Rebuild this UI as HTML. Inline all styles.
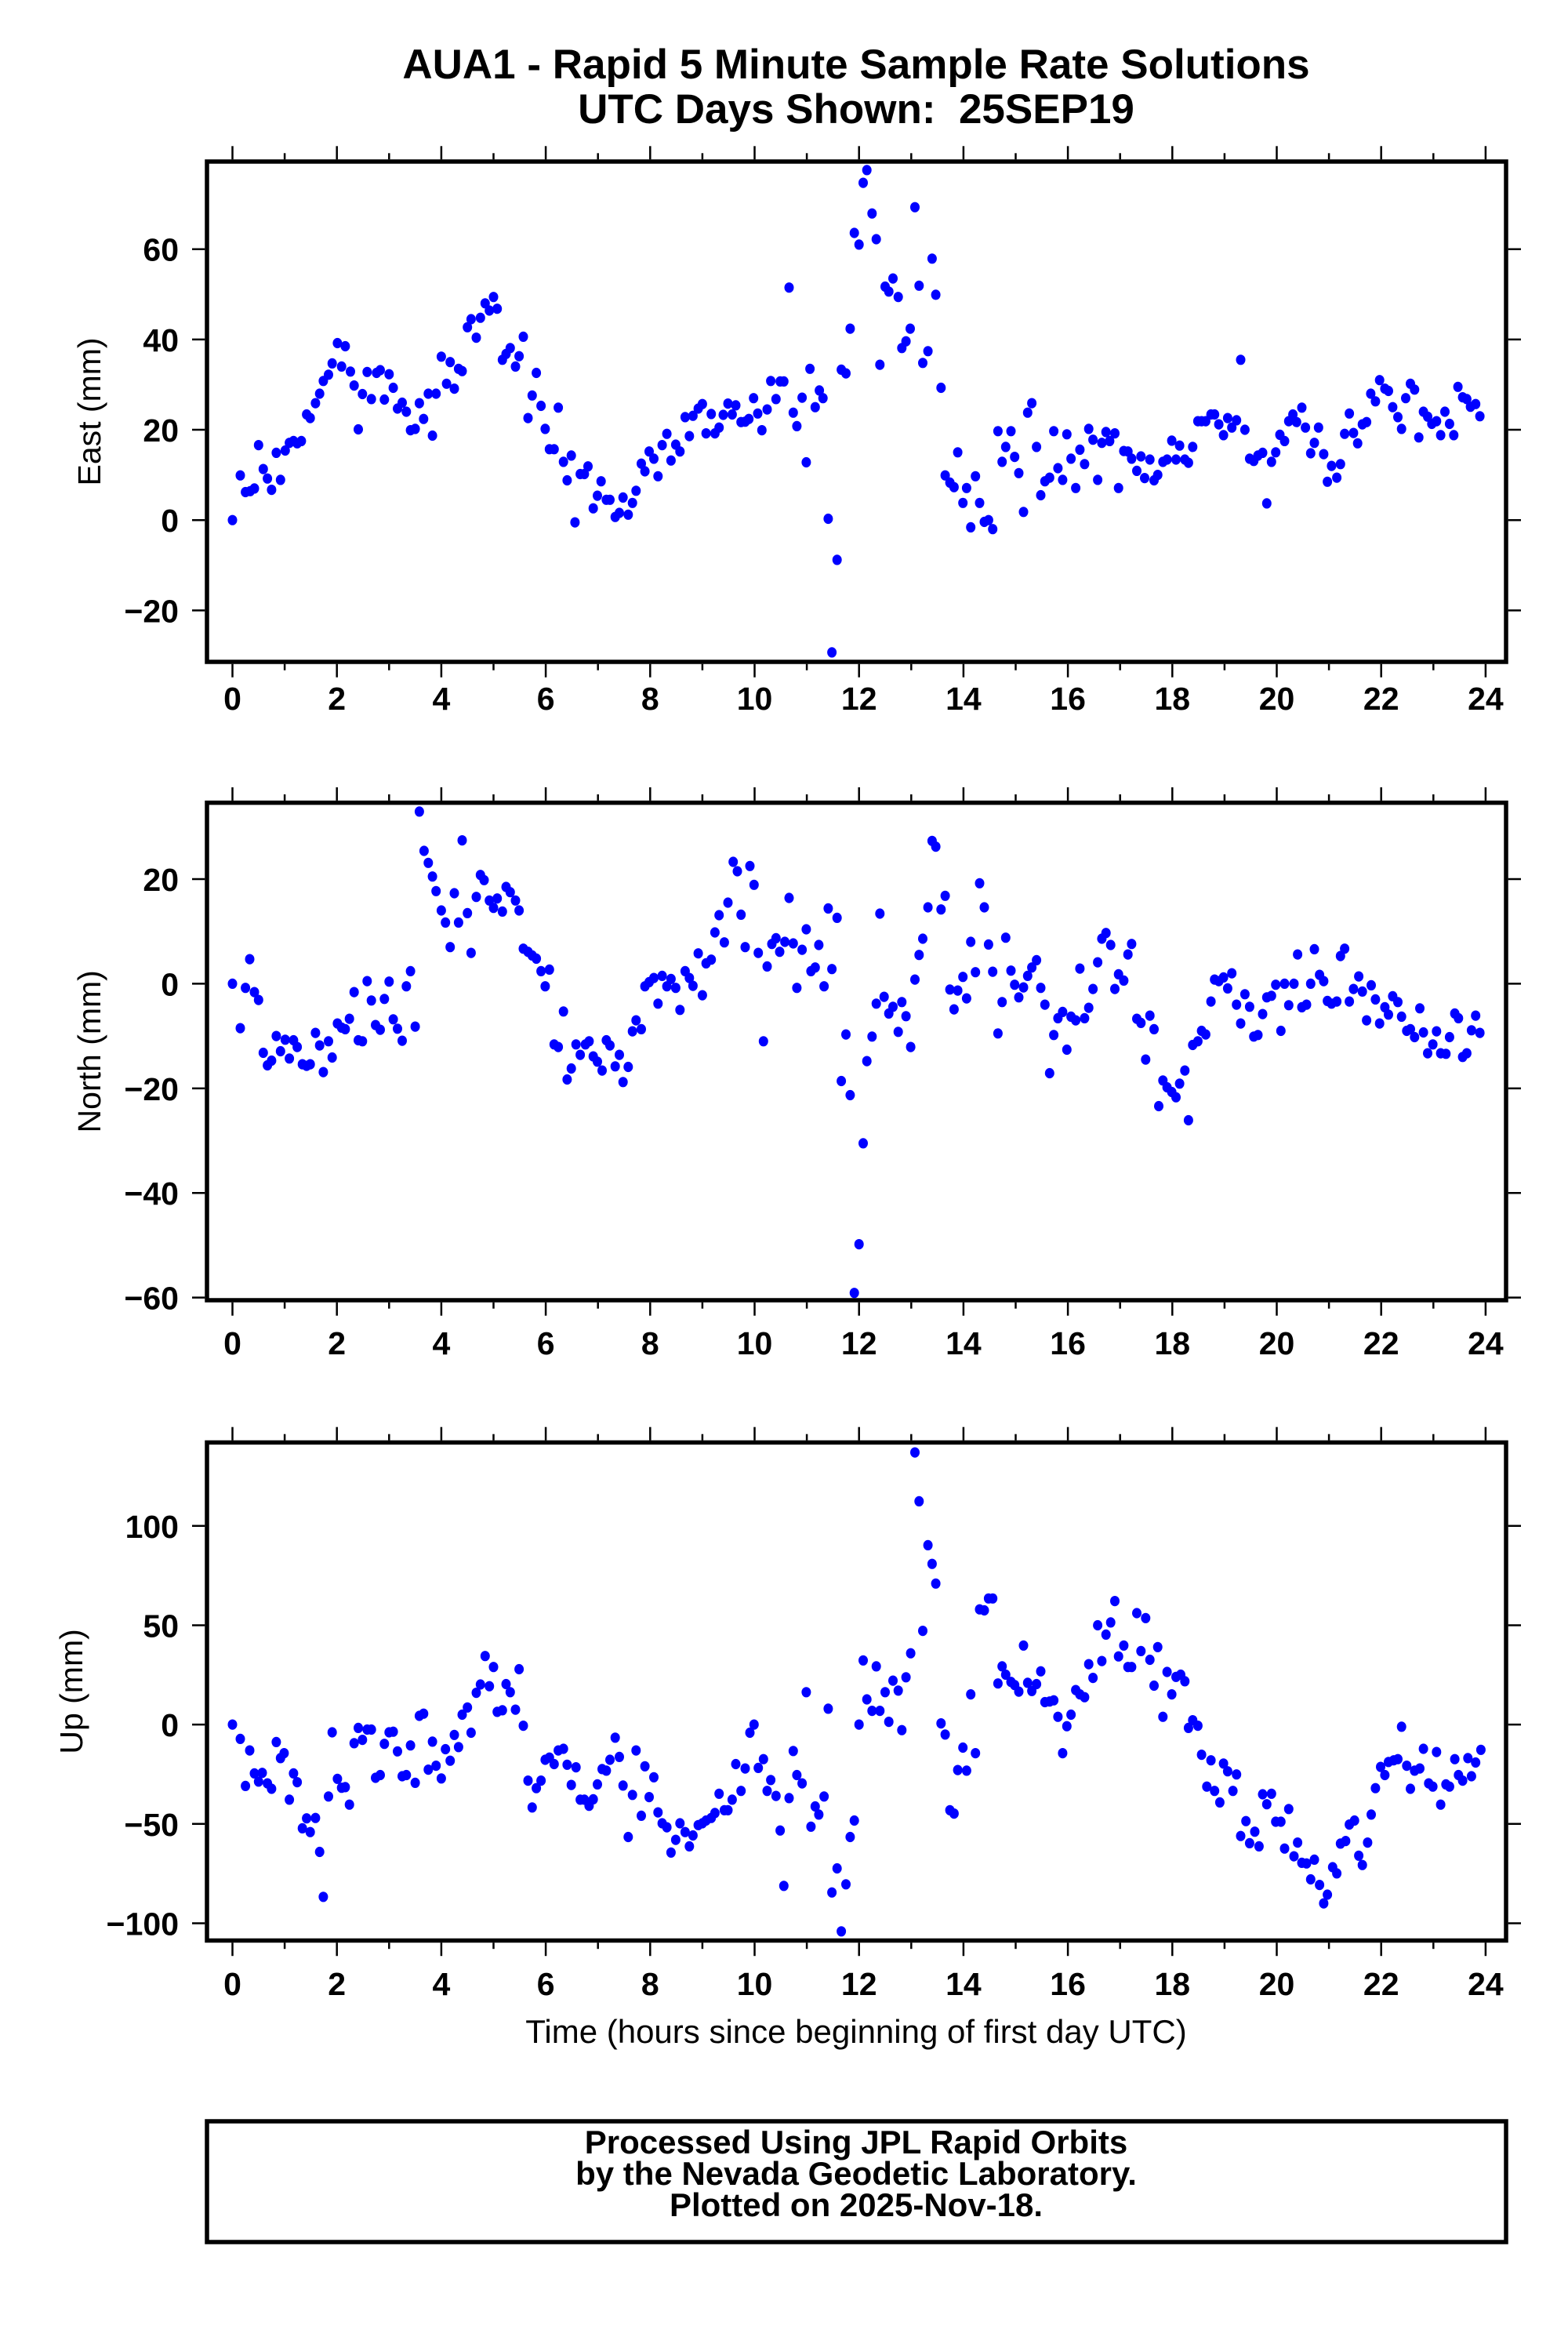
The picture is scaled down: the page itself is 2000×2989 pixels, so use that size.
<!DOCTYPE html>
<html><head><meta charset="utf-8"><style>
html,body{margin:0;padding:0;background:#fff;}
svg{display:block;}
text{font-family:"Liberation Sans",sans-serif;fill:#000;}
</style></head><body>
<svg id="chart" width="2000" height="2989" viewBox="0 0 2000 2989" xmlns="http://www.w3.org/2000/svg">
<text x="1092" y="100" text-anchor="middle" font-size="53" font-weight="bold">AUA1 - Rapid 5 Minute Sample Rate Solutions</text>
<text x="1092" y="157" text-anchor="middle" font-size="53" font-weight="bold">UTC Days Shown:&#160; 25SEP19</text>
<g id="panels"></g>
<text x="1092" y="2605" text-anchor="middle" font-size="42">Time (hours since beginning of first day UTC)</text>
<rect x="264" y="2705" width="1657" height="154" fill="none" stroke="#000" stroke-width="5.5"/>
<text x="1092" y="2746" text-anchor="middle" font-size="42" font-weight="bold">Processed Using JPL Rapid Orbits</text>
<text x="1092" y="2786" text-anchor="middle" font-size="42" font-weight="bold">by the Nevada Geodetic Laboratory.</text>
<text x="1092" y="2826" text-anchor="middle" font-size="42" font-weight="bold">Plotted on 2025-Nov-18.</text>
</svg>
<script>
const xTicks = [0,2,4,6,8,10,12,14,16,18,20,22,24];
const eastTicks = [60,40,20,0,-20];
const northTicks = [20,0,-20,-40,-60];
const upTicks = [100,50,0,-50,-100];

const eastT = [0,0.15,0.25,0.34,0.42,0.5,0.59,0.67,0.75,0.84,0.92,1.01,1.09,1.17,1.24,1.32,1.42,1.49,1.59,1.67,1.74,1.84,1.91,2.01,2.09,2.16,2.26,2.33,2.41,2.49,2.58,2.66,2.76,2.83,2.91,3.0,3.08,3.16,3.25,3.33,3.41,3.5,3.58,3.66,3.75,3.83,3.9,4.0,4.1,4.17,4.25,4.33,4.4,4.5,4.57,4.67,4.75,4.84,4.92,5.0,5.07,5.17,5.24,5.32,5.42,5.49,5.57,5.66,5.74,5.82,5.91,5.99,6.07,6.16,6.24,6.34,6.41,6.49,6.56,6.66,6.74,6.81,6.91,6.99,7.06,7.16,7.23,7.33,7.41,7.48,7.58,7.66,7.73,7.83,7.9,7.98,8.07,8.15,8.23,8.32,8.4,8.49,8.57,8.67,8.75,8.82,8.92,9.0,9.07,9.17,9.24,9.32,9.4,9.49,9.57,9.64,9.74,9.82,9.89,9.98,10.06,10.14,10.24,10.31,10.41,10.49,10.56,10.66,10.74,10.81,10.91,10.99,11.06,11.16,11.24,11.31,11.41,11.48,11.58,11.66,11.75,11.83,11.91,12.0,12.08,12.15,12.25,12.33,12.4,12.5,12.57,12.65,12.75,12.82,12.9,12.98,13.07,13.15,13.22,13.32,13.4,13.47,13.57,13.65,13.74,13.82,13.89,13.99,14.06,14.14,14.23,14.31,14.4,14.48,14.56,14.66,14.74,14.81,14.91,14.98,15.06,15.15,15.23,15.31,15.4,15.48,15.56,15.65,15.73,15.81,15.9,15.98,16.06,16.15,16.23,16.32,16.4,16.48,16.57,16.65,16.73,16.8,16.9,16.97,17.07,17.15,17.22,17.32,17.4,17.47,17.57,17.65,17.72,17.82,17.9,17.99,18.07,18.14,18.24,18.31,18.39,18.49,18.56,18.64,18.74,18.81,18.89,18.98,19.06,19.14,19.23,19.31,19.39,19.48,19.56,19.64,19.73,19.81,19.9,19.98,20.06,20.15,20.23,20.31,20.38,20.48,20.55,20.65,20.72,20.8,20.9,20.97,21.05,21.15,21.22,21.3,21.39,21.47,21.55,21.64,21.72,21.8,21.89,21.97,22.07,22.14,22.22,22.32,22.39,22.47,22.56,22.64,22.72,22.81,22.89,22.97,23.06,23.14,23.22,23.31,23.39,23.47,23.56,23.64,23.71,23.81,23.89];
const eastV = [0,9.9,6.2,6.4,7,16.6,11.3,9.2,6.7,14.9,8.9,15.4,17.1,17.5,17,17.5,23.4,22.6,25.9,28,30.8,32.2,34.7,39.2,34,38.5,32.9,29.8,20.1,27.9,32.8,26.8,32.6,33.2,26.7,32.3,29.3,24.7,26,24,19.9,20.2,25.9,22.4,28,18.7,28,36.2,30.2,35,29.1,33.5,33,42.7,44.5,40.4,44.8,48,46.4,49.4,46.8,35.5,36.8,38.1,34,36.3,40.6,22.6,27.6,32.6,25.3,20.2,15.7,15.7,24.9,12.9,8.8,14.3,-0.5,10.2,10.2,11.9,2.6,5.4,8.6,4.5,4.5,0.7,1.6,5,1.2,3.8,6.5,12.5,10.8,15.2,13.6,9.7,16.6,19.1,13.2,16.7,15.2,22.8,18.6,23.1,24.7,25.7,19.2,23.5,19.2,20.5,23.3,25.8,23.4,25.4,21.7,21.8,22.4,27,23.6,19.9,24.5,30.8,26.8,30.7,30.7,51.5,23.8,20.8,27.1,12.8,33.5,25,28.7,27,0.3,-29.3,-8.8,33.3,32.5,42.4,63.6,61,74.7,77.5,67.9,62.2,34.4,51.7,50.6,53.5,49.4,38.1,39.6,42.4,69.3,51.9,34.8,37.4,57.9,49.9,29.3,9.9,8.3,7.3,15,3.8,7.1,-1.6,9.7,3.8,-0.4,0,-2,19.7,12.9,16.2,19.7,14,10.4,1.8,23.8,25.9,16.2,5.5,8.6,9.4,19.7,11.5,8.9,19,13.6,7.1,15.6,12.4,20.2,17.8,8.9,17.1,19.5,17.5,19.2,7.1,15.3,15.2,13.6,10.9,14.1,9.3,13.4,8.8,10,12.9,13.4,17.6,13.4,16.5,13.4,12.7,16.2,21.9,21.9,21.9,23.4,23.4,21.2,18.8,22.6,20.5,22.1,35.5,20,13.6,13.1,14.3,14.9,3.7,12.9,15,18.9,17.5,21.9,23.4,21.7,24.9,20.5,14.8,17.1,20.5,14.6,8.5,12,9.4,12.4,19.1,23.6,19.3,17,21.2,21.7,28,26.3,31,29.1,28.6,25,22.8,20.2,27,30.2,28.9,18.3,24,22.9,21.3,21.9,18.8,24,21.3,18.8,29.5,27.2,26.8,25.1,25.7,23];

const northT = [0,0.15,0.25,0.33,0.42,0.5,0.59,0.67,0.75,0.84,0.92,1.01,1.09,1.17,1.24,1.34,1.42,1.49,1.59,1.67,1.74,1.84,1.91,2.01,2.09,2.16,2.24,2.33,2.41,2.49,2.58,2.66,2.74,2.83,2.91,3.0,3.08,3.16,3.25,3.33,3.41,3.5,3.58,3.67,3.75,3.83,3.9,4.0,4.08,4.17,4.25,4.33,4.4,4.5,4.57,4.67,4.75,4.82,4.92,5.0,5.07,5.17,5.24,5.32,5.42,5.49,5.57,5.66,5.74,5.82,5.91,5.99,6.07,6.16,6.24,6.34,6.41,6.49,6.58,6.66,6.76,6.83,6.91,6.99,7.08,7.16,7.23,7.33,7.41,7.48,7.58,7.66,7.73,7.83,7.9,7.98,8.07,8.15,8.23,8.32,8.4,8.49,8.57,8.67,8.75,8.82,8.92,9.0,9.07,9.17,9.24,9.32,9.42,9.49,9.59,9.67,9.74,9.82,9.91,9.99,10.07,10.17,10.24,10.33,10.41,10.48,10.58,10.66,10.74,10.81,10.91,10.99,11.08,11.16,11.23,11.33,11.41,11.48,11.58,11.66,11.75,11.83,11.91,12.0,12.08,12.15,12.25,12.33,12.4,12.48,12.57,12.65,12.75,12.82,12.9,12.99,13.07,13.15,13.22,13.32,13.4,13.47,13.57,13.65,13.74,13.82,13.89,13.99,14.06,14.14,14.23,14.31,14.4,14.48,14.56,14.66,14.74,14.81,14.91,14.98,15.06,15.15,15.23,15.31,15.4,15.48,15.56,15.65,15.73,15.81,15.9,15.98,16.06,16.15,16.23,16.32,16.4,16.48,16.57,16.65,16.73,16.82,16.9,16.97,17.07,17.15,17.22,17.32,17.4,17.49,17.57,17.65,17.74,17.82,17.9,17.99,18.07,18.14,18.24,18.31,18.39,18.49,18.56,18.64,18.74,18.81,18.89,18.98,19.06,19.14,19.23,19.31,19.39,19.48,19.56,19.64,19.73,19.81,19.9,19.98,20.08,20.15,20.23,20.33,20.4,20.48,20.57,20.65,20.72,20.82,20.9,20.97,21.05,21.15,21.22,21.3,21.39,21.47,21.57,21.64,21.72,21.81,21.89,21.97,22.07,22.14,22.22,22.32,22.39,22.49,22.56,22.64,22.74,22.81,22.89,22.99,23.06,23.14,23.24,23.31,23.41,23.48,23.56,23.64,23.73,23.81,23.89];
const northV = [0,-8.5,-0.8,4.7,-1.6,-3.1,-13.2,-15.6,-14.7,-10,-12.9,-10.7,-14.3,-10.8,-12.1,-15.4,-15.7,-15.4,-9.4,-11.8,-16.9,-11,-14.1,-7.6,-8.4,-8.7,-6.7,-1.6,-10.8,-11,0.5,-3.2,-7.9,-8.8,-2.9,0.4,-6.8,-8.6,-10.9,-0.5,2.4,-8.2,32.9,25.4,23.1,20.5,17.7,14,11.7,7,17.3,11.7,27.4,13.5,5.9,16.6,20.8,19.8,15.9,14.5,16.3,13.8,18.5,17.5,15.9,14,6.7,6.1,5.4,4.8,2.4,-0.5,2.7,-11.6,-12.1,-5.3,-18.3,-16.2,-11.6,-13.6,-11.6,-11,-13.9,-14.9,-16.6,-10.8,-11.8,-15.8,-13.6,-18.8,-15.9,-9.1,-7,-8.7,-0.5,0.3,1.1,-3.8,1.5,-0.5,0.9,-0.8,-5,2.4,1.1,-0.4,5.8,-2.2,3.9,4.6,9.8,13.1,7.9,15.5,23.3,21.5,13.2,7,22.5,18.9,5.9,-11,3.3,7.6,8.7,6.1,8,16.4,7.7,-0.8,6.5,10.4,2.4,3.1,7.4,-0.5,14.4,2.8,12.6,-18.6,-9.7,-21.3,-59.1,-49.8,-30.5,-14.8,-10.1,-3.8,13.4,-2.5,-5.7,-4.4,-9.2,-3.5,-6.2,-12.1,0.8,5.5,8.6,14.6,27.3,26.2,14.2,16.8,-1.1,-4.9,-1.3,1.3,-2.8,8,2.2,19.2,14.6,7.5,2.3,-9.5,-3.5,8.8,2.5,-0.2,-2.6,-0.7,1.5,3.1,4.5,-0.8,-4,-17.1,-9.8,-6.6,-5.4,-12.6,-6.3,-7,2.9,-6.6,-4.6,-1,4.1,8.6,9.7,7.4,-1,1.8,0.6,5.6,7.6,-6.7,-7.5,-14.5,-6.1,-8.7,-23.4,-18.5,-19.8,-20.7,-21.7,-19.1,-16.6,-26.1,-11.7,-11,-9,-9.7,-3.4,0.8,0.5,1.2,-0.9,2,-4,-7.6,-2,-4.4,-10.1,-9.8,-5.8,-2.6,-2.3,-0.2,-9,0,-4.1,0,5.6,-4.5,-4,0,6.6,1.7,0.5,-3.3,-3.8,-3.4,5.3,6.7,-3.4,-1,1.4,-1.5,-7,-0.3,-3,-7.6,-4.5,-5.9,-2.4,-3.5,-6.3,-9,-8.7,-10.2,-4.7,-9.3,-13.3,-11.6,-9.1,-13.3,-13.4,-10.2,-5.7,-6.6,-14,-13.3,-8.9,-6.1,-9.4];

const upT = [0,0.15,0.25,0.33,0.42,0.5,0.57,0.67,0.75,0.84,0.92,0.99,1.09,1.17,1.24,1.34,1.42,1.49,1.59,1.67,1.74,1.84,1.91,2.01,2.09,2.16,2.24,2.33,2.41,2.49,2.58,2.66,2.74,2.83,2.91,3.0,3.08,3.16,3.25,3.33,3.41,3.5,3.58,3.66,3.75,3.83,3.9,4.0,4.08,4.17,4.25,4.33,4.4,4.5,4.57,4.67,4.75,4.84,4.92,5.0,5.07,5.17,5.24,5.32,5.42,5.49,5.57,5.66,5.74,5.82,5.91,5.99,6.07,6.16,6.24,6.34,6.41,6.49,6.58,6.66,6.74,6.83,6.91,6.99,7.08,7.16,7.23,7.33,7.41,7.48,7.58,7.66,7.73,7.83,7.9,7.98,8.07,8.15,8.23,8.32,8.4,8.49,8.57,8.67,8.75,8.82,8.92,9.0,9.07,9.17,9.24,9.32,9.42,9.49,9.57,9.64,9.74,9.82,9.91,9.99,10.07,10.17,10.24,10.31,10.41,10.49,10.56,10.66,10.74,10.81,10.91,10.99,11.08,11.16,11.23,11.33,11.41,11.48,11.58,11.66,11.75,11.83,11.91,12.0,12.08,12.15,12.25,12.33,12.4,12.5,12.57,12.65,12.75,12.82,12.9,12.99,13.07,13.15,13.22,13.32,13.4,13.47,13.57,13.65,13.74,13.82,13.89,13.99,14.06,14.14,14.23,14.31,14.4,14.48,14.56,14.66,14.74,14.81,14.91,14.98,15.06,15.15,15.23,15.31,15.4,15.48,15.56,15.65,15.73,15.81,15.9,15.98,16.06,16.15,16.23,16.32,16.4,16.48,16.57,16.65,16.73,16.82,16.9,16.97,17.07,17.15,17.22,17.32,17.4,17.49,17.57,17.65,17.72,17.82,17.9,17.99,18.07,18.16,18.24,18.31,18.39,18.49,18.56,18.66,18.74,18.81,18.91,18.98,19.06,19.16,19.23,19.31,19.41,19.48,19.58,19.66,19.73,19.81,19.9,19.98,20.08,20.15,20.23,20.33,20.4,20.48,20.57,20.65,20.72,20.82,20.9,20.97,21.07,21.15,21.22,21.32,21.39,21.49,21.57,21.64,21.74,21.81,21.89,21.99,22.07,22.14,22.24,22.32,22.39,22.49,22.56,22.64,22.74,22.81,22.91,22.99,23.06,23.14,23.24,23.31,23.41,23.48,23.56,23.66,23.73,23.81,23.91];
const upV = [0,-7.2,-30.9,-13,-24.6,-28.7,-24.3,-29.6,-32.3,-8.8,-16.9,-14.4,-37.8,-24.6,-29,-52.2,-47.2,-54.1,-47,-64.1,-86.7,-36.2,-3.9,-27.3,-31.8,-31.5,-40.3,-9.4,-1.7,-7.7,-2.5,-2.5,-26.8,-25.4,-9.7,-3.9,-3.6,-13.5,-26,-25.4,-10.5,-29.3,4.4,5.5,-22.7,-8.6,-20.7,-27.1,-12.4,-18.2,-5.2,-11.3,5,8.6,-4.1,16,20.2,34.5,19.3,29,6.4,7.2,20.4,16.3,7.5,27.9,-0.6,-28.2,-41.7,-32,-28.2,-17.7,-16.6,-19.9,-13,-12.2,-20.2,-30.4,-21.5,-37.8,-37.8,-40.9,-37.6,-30.1,-22.4,-23.2,-17.7,-6.6,-16.3,-30.7,-56.6,-35.4,-13,-45.9,-21,-36.5,-26.5,-44.2,-49.7,-51.7,-64.4,-58,-49.7,-54.1,-61.3,-55.8,-50.6,-49.7,-48.3,-47,-44.5,-34.8,-43.1,-43.1,-37.8,-19.9,-33.4,-22.1,-4.1,0,-21.8,-17.4,-33.4,-27.9,-35.9,-53.3,-81.2,-37,-13.3,-25.4,-29.6,16.3,-51.4,-41.2,-45.3,-36.2,8,-84.5,-72.4,-104.1,-80.4,-56.6,-48.3,0,32.3,12.7,6.9,29.3,6.9,16.3,1.4,22.1,17.1,-2.8,23.8,35.9,137,112.4,47.2,90.3,80.9,71,0.6,-5,-43.1,-44.8,-22.9,-11.6,-23.2,15.2,-14.4,58,57.5,63.5,63.5,20.7,29.3,25.1,21.5,19.9,16.6,39.8,21,16.9,20.4,26.8,11.3,11.6,12.2,3.9,-14.4,-0.8,5,17.4,15.2,13.8,30.4,23.5,50,32,45.3,51.4,62.2,34.3,39.8,29,29,56.1,37,53.6,32.6,19.6,39,3.9,26.5,15.2,24,25.1,21.8,-1.7,2.2,-0.6,-15.2,-31.2,-18,-33.4,-39.2,-19.6,-23.5,-33.4,-25.1,-56.1,-48.6,-59.7,-53.9,-61.3,-35.1,-40.1,-34.8,-48.9,-48.9,-62.4,-42.5,-66.3,-59.4,-69.6,-69.9,-77.9,-68,-80.7,-90,-85.6,-71.8,-74.9,-59.9,-58.6,-50.3,-48.3,-66,-70.7,-59.4,-45.3,-32,-21.3,-25.4,-18.8,-18,-17.4,-1.1,-20.7,-32.3,-23.2,-22.1,-12.2,-29.6,-31.2,-13.8,-40.3,-30.1,-31.2,-17.4,-25.4,-28.2,-16.9,-26,-19.1,-12.7];

const NS = 'http://www.w3.org/2000/svg';
const FL = 264, FR = 1921;
function xs(h){ return 296.5 + h * 66.6; }
function mk(tag, attrs, parent){
  const el = document.createElementNS(NS, tag);
  for (const k in attrs) el.setAttribute(k, attrs[k]);
  parent.appendChild(el);
  return el;
}
const root = document.getElementById('panels');

function panel(key, title, top, bottom, vTop, vBot, ticks, T, V, titleX, xLabY){
  const g = mk('g', {}, root);
  
  
  const ys = v => top + (vTop - v) / (vTop - vBot) * (bottom - top);
  const pts = mk('g', {fill:'#0000ff'}, g);
  
  
  for (let i = 0; i < T.length; i++) {
    const c = mk('ellipse', {cx: xs(T[i]).toFixed(1), cy: ys(V[i]).toFixed(1), rx: 6, ry: 6.6}, pts);
    
    
  }
  const fr = mk('rect', {x: FL, y: top, width: FR - FL, height: bottom - top, fill: 'none', stroke: '#000', 'stroke-width': 5.5}, g);
  
  
  const ax = mk('g', {stroke: '#000', 'stroke-width': 2.5}, g);
  
  
  for (let h = 0; h <= 24; h++) {
    const L = (h % 2 === 0) ? 17 : 8;
    const x = xs(h);
    mk('line', {x1: x, y1: bottom + 2.7, x2: x, y2: bottom + 2.7 + L}, ax);
    mk('line', {x1: x, y1: top - 2.7, x2: x, y2: top - 2.7 - L}, ax);
  }
  xTicks.forEach(h => {
    const t = mk('text', {x: xs(h), y: xLabY, 'text-anchor': 'middle', 'font-size': 41, 'font-weight': 'bold'}, g);
    t.textContent = String(h);
    
    
  });
  const ay = mk('g', {stroke: '#000', 'stroke-width': 2.5}, g);
  
  
  ticks.forEach(v => {
    const y = ys(v);
    mk('line', {x1: FL - 2.7, y1: y, x2: FL - 19, y2: y}, ay);
    mk('line', {x1: FR + 2.7, y1: y, x2: FR + 19, y2: y}, ay);
    const t = mk('text', {x: 228, y: y + 15, 'text-anchor': 'end', 'font-size': 41, 'font-weight': 'bold'}, g);
    t.textContent = v < 0 ? '\u2212' + Math.abs(v) : String(v);
    
    
  });
  const cy = (top + bottom) / 2;
  const yt = mk('text', {x: titleX, y: cy, 'text-anchor': 'middle', 'font-size': 41, transform: 'rotate(-90 ' + titleX + ' ' + cy + ')'}, g);
  yt.textContent = title;
  
  
}

panel('east', 'East (mm)', 206, 844, 79.4, -31.4, eastTicks, eastT, eastV, 128, 905);
panel('north', 'North (mm)', 1023.6, 1658, 34.6, -60.5, northTicks, northT, northV, 128, 1727);
panel('up', 'Up (mm)', 1839.4, 2474.5, 142, -108.7, upTicks, upT, upV, 105, 2544);
</script>
</body></html>
